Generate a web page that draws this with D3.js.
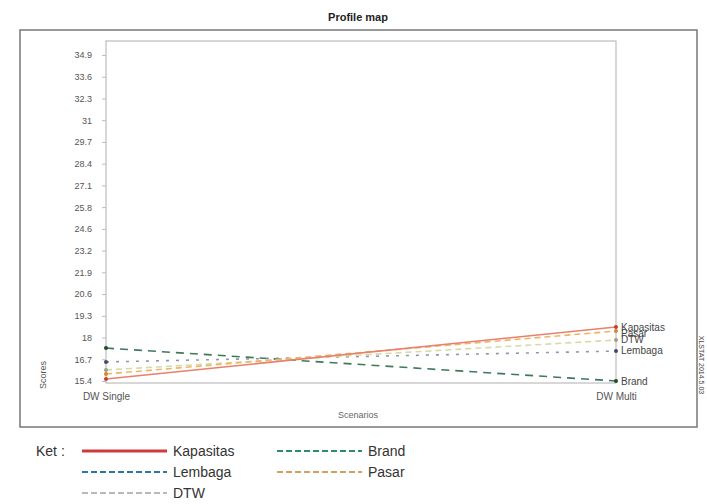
<!DOCTYPE html>
<html><head><meta charset="utf-8">
<script src="https://cdn.jsdelivr.net/npm/d3@7"></script>
<style>body{margin:0;background:#fff;} text{font-family:Arial,"Liberation Sans",sans-serif;}</style>
</head><body>
<svg id="c" width="707" height="504"></svg>
<script>
const scenarios = ["DW Single", "DW Multi"];
const seriesNames = ["Kapasitas", "Brand", "Lembaga", "Pasar", "DTW"];
const kapasitas = [15.52, 18.63];
const brand = [17.37, 15.40];
const lembaga = [16.54, 17.19];
const pasar = [15.82, 18.39];
const dtw = [16.06, 17.85];
const yTicks = [15.4, 16.7, 18, 19.3, 20.6, 21.9, 23.2, 24.5, 25.8, 27.1, 28.4, 29.7, 31, 32.3, 33.6, 34.9];
const yTickLabels = ["15.4", "16.7", "18", "19.3", "20.6", "21.9", "23.2", "24.6", "25.8", "27.1", "28.4", "29.7", "31", "32.3", "33.6", "34.9"];

const series = [
  {name:"Kapasitas", values:kapasitas, color:"#e8806c", dash:null, dot:"#c04030", lcolor:"#d03a3a", lw:3, ldash:null},
  {name:"Pasar", values:pasar, color:"#f0b466", dash:"6,4", dot:"#d08a30", lcolor:"#d8a060", lw:2, ldash:"6,3"},
  {name:"DTW", values:dtw, color:"#d6dba6", dash:"6,4", dot:"#a0a080", lcolor:"#b8b8b8", lw:2, ldash:"6,3"},
  {name:"Lembaga", values:lembaga, color:"#8a96b4", dash:"3,7", dot:"#404a70", lcolor:"#2f76a8", lw:2, ldash:"6,3"},
  {name:"Brand", values:brand, color:"#3e7a5a", dash:"8,6", dot:"#1e4a30", lcolor:"#2e8a70", lw:2, ldash:"6,3"}
];
const labelY = {"Kapasitas":327, "Pasar":333, "DTW":339, "Lembaga":350, "Brand":381};

const svg = d3.select("#c");
const pL = 106, pR = 616, pT = 41, pB = 383;
const x = d3.scalePoint().domain(scenarios).range([pL, pR]);
const y = d3.scaleLinear().domain([15.4, 34.9]).range([381, 55]);

// outer frame
svg.append("rect").attr("x",20).attr("y",30).attr("width",677).attr("height",397)
  .attr("fill","#fff").attr("stroke","#777").attr("stroke-width",1.5);
svg.append("text").attr("x",358).attr("y",21).attr("text-anchor","middle")
  .attr("font-size",11).attr("font-weight","bold").attr("fill","#222").text("Profile map");

// plot area
svg.append("rect").attr("x",pL).attr("y",pT).attr("width",pR-pL).attr("height",pB-pT)
  .attr("fill","none").attr("stroke","#b0b0b0").attr("stroke-width",1);

const yAxis = d3.axisLeft(y).tickValues(yTicks).tickSize(4).tickPadding(10)
  .tickFormat((d,i) => yTickLabels[i]);
const ga = svg.append("g").attr("transform",`translate(${pL},0)`).call(yAxis);
ga.select(".domain").remove();
ga.selectAll("line").attr("stroke","#bbb");
ga.selectAll("text").attr("font-size",9).attr("fill","#555");

svg.append("text").attr("transform","translate(46,375) rotate(-90)").attr("text-anchor","middle")
  .attr("font-size",9).attr("fill","#555").text("Scores");

const gx = svg.append("g").attr("transform",`translate(0,${pB})`)
  .call(d3.axisBottom(x).tickSize(0).tickPadding(10));
gx.select(".domain").remove();
gx.selectAll("text").attr("font-size",10).attr("fill","#555");
svg.append("text").attr("x",358).attr("y",418).attr("text-anchor","middle")
  .attr("font-size",9).attr("fill","#666").text("Scenarios");

const line = d3.line().x((d,i)=>x(scenarios[i])).y(d=>y(d));
series.slice().reverse().forEach(s => {
  svg.append("path").datum(s.values).attr("d",line).attr("fill","none")
    .attr("stroke",s.color).attr("stroke-width",1.6).attr("stroke-dasharray",s.dash);
  s.values.forEach((v,i)=>{
    svg.append("circle").attr("cx",x(scenarios[i])).attr("cy",y(v)).attr("r",2).attr("fill",s.dot);
  });
});
series.forEach(s => {
  svg.append("text").attr("x",pR+5).attr("y",labelY[s.name]).attr("dy","0.35em")
    .attr("font-size",10).attr("fill","#444").text(s.name);
});

// vertical side text
svg.append("text").attr("transform","translate(699,365) rotate(90)").attr("text-anchor","middle")
  .attr("font-size",7).attr("fill","#444").text("XLSTAT 2014.5.03");

// legend
svg.append("text").attr("x",36).attr("y",456).attr("font-size",14).attr("fill","#333").text("Ket :");
const legendOrder = [
  {name:"Kapasitas", col:0, row:0},
  {name:"Brand", col:1, row:0},
  {name:"Lembaga", col:0, row:1},
  {name:"Pasar", col:1, row:1},
  {name:"DTW", col:0, row:2}
];
legendOrder.forEach(l => {
  const s = series.find(d=>d.name===l.name);
  const lx = l.col===0 ? 82 : 277;
  const ly = 451 + l.row*21;
  svg.append("line").attr("x1",lx).attr("x2",lx+85).attr("y1",ly).attr("y2",ly)
    .attr("stroke",s.lcolor).attr("stroke-width",s.lw).attr("stroke-dasharray",s.ldash);
  svg.append("text").attr("x",lx+91).attr("y",ly).attr("dy","0.35em").attr("font-size",14)
    .attr("fill","#333").text(s.name);
});
</script>
</body></html>
